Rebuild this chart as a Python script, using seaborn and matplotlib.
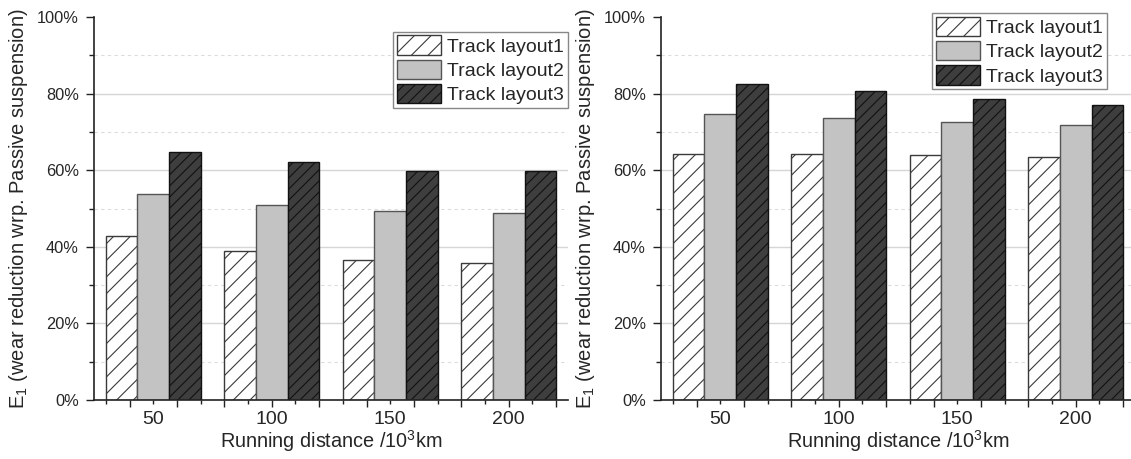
import numpy as np
import pandas as pd
import matplotlib
matplotlib.use("Agg")
import matplotlib.pyplot as plt
from matplotlib.ticker import MultipleLocator, FuncFormatter
import seaborn as sns

# ---------------- data ----------------
distances = ["50", "100", "150", "200"]
layouts = ["Track layout1", "Track layout2", "Track layout3"]

left_layout1 = [42.7, 38.9, 36.5, 35.8]
left_layout2 = [53.7, 51.0, 49.4, 48.8]
left_layout3 = [64.8, 62.2, 59.9, 59.9]

right_layout1 = [64.1, 64.1, 63.9, 63.5]
right_layout2 = [74.6, 73.5, 72.6, 71.7]
right_layout3 = [82.4, 80.6, 78.7, 77.0]

y_label = "E$_\\mathregular{1}$ (wear reduction wrp. Passive suspension)"
x_label = "Running distance /10$^\\mathregular{3}$km"

# ---------------- style ----------------
sns.set_style("white")
plt.rcParams["font.family"] = ["Liberation Sans", "DejaVu Sans"]
plt.rcParams["mathtext.fontset"] = "custom"
plt.rcParams["mathtext.rm"] = "Liberation Sans"
plt.rcParams["mathtext.it"] = "Liberation Sans"
plt.rcParams["hatch.linewidth"] = 0.8

fills = ["#ffffff", "#c3c3c3", "#3e3e3e"]
edges = ["#3a3a3a", "#555555", "#111111"]
hatches = ["//", "", "///"]


def make_df(v1, v2, v3):
    rows = []
    for lay, vals in zip(layouts, [v1, v2, v3]):
        for d, v in zip(distances, vals):
            rows.append({"distance": d, "layout": lay, "value": v})
    return pd.DataFrame(rows)


fig = plt.figure(figsize=(11.31, 4.59), dpi=100)
W, H = 1131, 459
ax_l = fig.add_axes([94 / W, 59 / H, 474 / W, 383 / H])
ax_r = fig.add_axes([661 / W, 59 / H, 474 / W, 383 / H])


def draw(ax, df, legend_anchor):
    sns.barplot(data=df, x="distance", y="value", hue="layout",
                order=distances, hue_order=layouts, palette=fills,
                saturation=1, width=0.8, gap=0, legend=False,
                edgecolor="#333333", linewidth=1.0, ax=ax, zorder=3)
    for cont, fc, ec, h in zip(ax.containers, fills, edges, hatches):
        for p in cont.patches:
            p.set_facecolor(fc)
            p.set_edgecolor(ec)
            p.set_hatch(h)
            p.set_linewidth(1.0)
            p.set_zorder(3)

    ax.set_xlim(-0.5, 3.5)
    ax.set_ylim(0, 100)
    ax.yaxis.set_major_locator(MultipleLocator(20))
    ax.yaxis.set_minor_locator(MultipleLocator(10))
    ax.yaxis.set_major_formatter(FuncFormatter(lambda v, pos: f"{v:.0f}%"))

    # grid
    ax.set_axisbelow(True)
    ax.grid(False)
    for yv in [20, 40, 60, 80]:
        ax.axhline(yv, color="#d6d6d6", lw=1.0, zorder=1)
    for yv in [10, 30, 50, 70, 90]:
        ax.axhline(yv, color="#dcdcdc", lw=0.8, ls=(0, (3, 3)), zorder=1)

    # x ticks: long and short alternating, labels under the categories
    long_pos = np.round(-0.2 + 0.4 * np.arange(10), 2)
    short_pos = np.round(-0.4 + 0.4 * np.arange(10), 2)
    cat_pos = {float(i): lab for i, lab in enumerate(distances)}
    ax.set_xticks(long_pos, labels=[cat_pos.get(float(p), "") for p in long_pos])
    ax.set_xticks(short_pos, labels=[cat_pos.get(float(p), "") for p in short_pos], minor=True)
    ax.tick_params(axis="x", which="major", direction="out", length=5.2, width=1.0,
                   pad=2.5, labelsize=14, color="#222222", bottom=True)
    ax.tick_params(axis="x", which="minor", direction="out", length=3.0, width=1.0,
                   pad=4.7, labelsize=14, color="#222222", bottom=True)
    ax.tick_params(axis="y", which="major", direction="out", length=6.0, width=1.0,
                   pad=5.0, labelsize=11.8, color="#222222", left=True)
    ax.tick_params(axis="y", which="minor", direction="out", length=3.5, width=1.0,
                   color="#222222", left=True)

    for s in ["top", "right"]:
        ax.spines[s].set_visible(False)
    for s in ["left", "bottom"]:
        ax.spines[s].set_color("#222222")
        ax.spines[s].set_linewidth(1.2)
        ax.spines[s].set_zorder(4)

    ax.set_xlabel(x_label, fontsize=14.3)
    ax.set_ylabel(y_label, fontsize=14.5)
    ax.xaxis.set_label_coords(0.5, -0.073)
    ax.yaxis.set_label_coords(-0.136, 0.5)

    handles = [c.patches[0] for c in ax.containers]
    leg = ax.legend(handles, layouts, loc="upper right", bbox_to_anchor=legend_anchor,
                    bbox_transform=ax.transAxes, borderaxespad=0, fontsize=14,
                    frameon=True, fancybox=False, framealpha=1, edgecolor="#888888",
                    handlelength=2.27, handleheight=1.15, handletextpad=0.3,
                    labelspacing=0.2, borderpad=0.2)
    leg.get_frame().set_linewidth(1.0)
    leg.set_zorder(10)


draw(ax_l, make_df(left_layout1, left_layout2, left_layout3), (1.0, 0.962))
draw(ax_r, make_df(right_layout1, right_layout2, right_layout3), (0.941, 1.01))

fig.savefig("out.png", dpi=100)
